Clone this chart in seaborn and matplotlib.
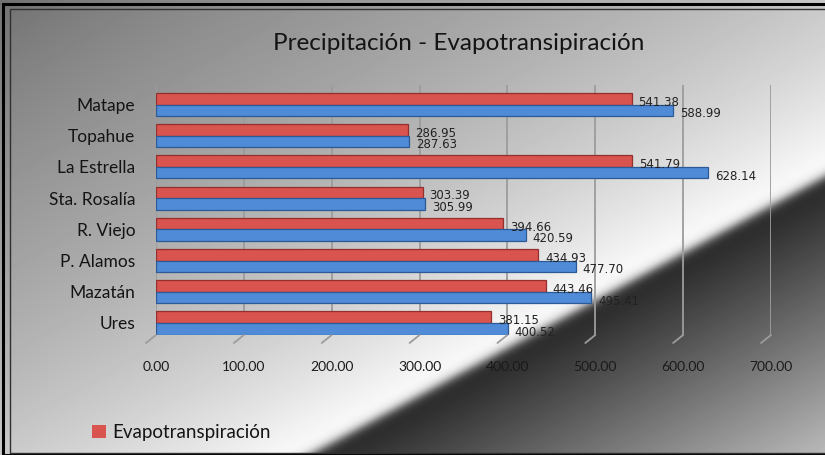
import numpy as np
import pandas as pd
import matplotlib
matplotlib.use("Agg")
import matplotlib.pyplot as plt
from matplotlib.patches import Rectangle
from matplotlib.lines import Line2D
from matplotlib.transforms import IdentityTransform
import seaborn as sns

# --------------------------------------------------------------------------
estaciones = ["Matape", "Topahue", "La Estrella", "Sta. Rosalía",
              "R. Viejo", "P. Alamos", "Mazatán", "Ures"]
evapo = [541.38, 286.95, 541.79, 303.39, 394.66, 434.93, 443.46, 381.15]
precip = [588.99, 287.63, 628.14, 305.99, 420.59, 477.70, 495.41, 400.52]
series = ["Evapotranspiración", "Precipitación"]
xticks = [0, 100, 200, 300, 400, 500, 600, 700]
titulo = "Precipitación - Evapotransipiración"
# --------------------------------------------------------------------------

df = pd.DataFrame({
    "estacion": estaciones * 2,
    "valor": evapo + precip,
    "serie": [series[0]] * len(estaciones) + [series[1]] * len(estaciones),
})

W, H = 825, 455
sns.set_theme(style="white")
plt.rcParams["font.family"] = ["Lato", "DejaVu Sans"]

fig = plt.figure(figsize=(W / 100, H / 100), dpi=100)

# background: grey gradient with a white diagonal band and dark lower-right
bg = fig.add_axes([0, 0, 1, 1], zorder=-5)
X, Y = np.meshgrid(np.arange(W), np.arange(H))
s = (Y - (447 - 0.54 * (X - 323))) / 1.136
light = 0.48 + 0.52 * np.exp(np.minimum(s, 0) / 300)
light = light - 0.12 * np.exp(-(X + 1.5 * Y) / 260)   # darker top-left corner
dark = np.clip(0.14 + 0.6 * (np.maximum(s, 0) / 250), 0, 0.75)
w = 1 / (1 + np.exp(-s / 3))
img = light * (1 - w) + dark * w
bg.imshow(img, cmap="gray", vmin=0, vmax=1, aspect="auto", extent=(0, W, H, 0))
bg.set_axis_off()

# frame
fig.patches.append(Rectangle((3 / W, 0), 1, 1 - 4 / H, transform=fig.transFigure,
                             fill=False, edgecolor="black", lw=2.2, zorder=10))
fig.patches.append(Rectangle((10 / W, 2 / H), 1, 1 - 11 / H, transform=fig.transFigure,
                             fill=False, edgecolor="#303030", lw=1.0, zorder=10))

ax = fig.add_axes([156 / W, (H - 335) / H, 615 / W, 250 / H])
ax.patch.set_alpha(0)
sns.barplot(data=df, x="valor", y="estacion", hue="serie", hue_order=series,
            order=estaciones, orient="h", palette=["#d9534f", "#4f8bd6"],
            width=0.74, edgecolor=None, linewidth=0, saturation=1, ax=ax)

handles, labels = ax.get_legend_handles_labels()
ax.get_legend().remove()

edge = ["#93302d", "#2c5a96"]
for k, cont in enumerate(ax.containers):
    for bar in cont:
        bar.set_edgecolor(edge[k])
        bar.set_linewidth(0.9)
        val = bar.get_width()
        yc = bar.get_y() + bar.get_height() / 2
        ax.annotate("%.2f" % val, (val, yc), xytext=(5, -2.5),
                    textcoords="offset points", ha="left", va="center",
                    fontsize=8.5, color="#222222", family="DejaVu Sans")

ax.set_xlim(0, 700)
ax.set_ylim(7.385, -0.625)
ax.set_xticks(xticks)
ax.set_xticklabels(["%.2f" % t for t in xticks])
ax.grid(axis="x", color="#9c9c9c", lw=1.3)
ax.grid(axis="y", visible=False)
ax.set_axisbelow(True)
sns.despine(ax=ax, left=True, bottom=True)
ax.tick_params(axis="x", length=0, pad=19, labelsize=10, labelcolor="#1a1a1a")
ax.tick_params(axis="y", length=0, pad=15, labelsize=12.5, labelcolor="#141414")
ax.set_xlabel("")
ax.set_ylabel("")

# small 3D "feet" at the bottom of each gridline
for t in xticks:
    px, py = ax.get_xaxis_transform().transform((t, 0))
    fig.lines.append(Line2D([px, px - 10], [py, py - 8], transform=IdentityTransform(),
                            color="#9c9c9c", lw=1.3))

fig.text(459 / W, 1 - 43 / H, titulo, ha="center", va="center",
         fontsize=17.5, color="#141414")

fig.legend(handles[:1], labels[:1], loc="center left",
           bbox_to_anchor=(92 / W, 1 - 432.5 / H), frameon=False,
           handlelength=0.72, handleheight=0.72, handletextpad=0.35,
           borderpad=0, borderaxespad=0, fontsize=13.5, labelcolor="#141414")

fig.savefig("out.png", dpi=100)
